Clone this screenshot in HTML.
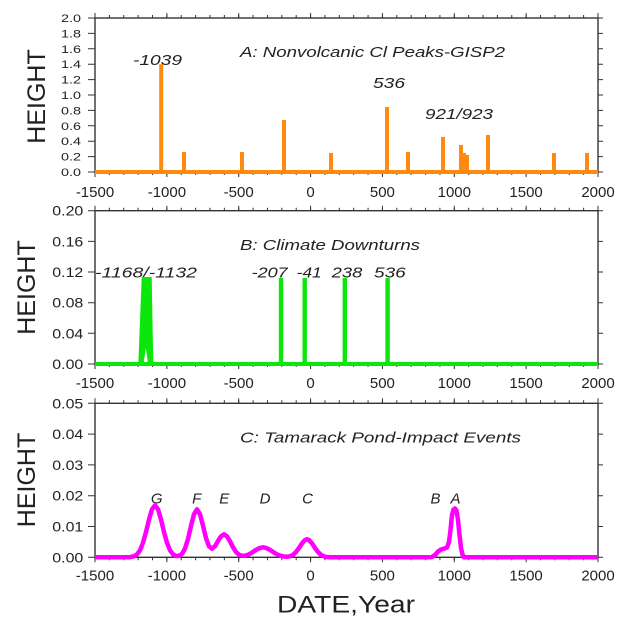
<!DOCTYPE html>
<html><head><meta charset="utf-8"><style>
html,body{margin:0;padding:0;background:#fff;}
svg{display:block;}
text{font-family:"Liberation Sans",Arial,sans-serif;fill:#222;}
.it{font-style:italic;}
</style></head><body>
<svg width="632" height="625" viewBox="0 0 632 625" xmlns="http://www.w3.org/2000/svg">
<rect width="632" height="625" fill="#fff"/>

<!-- ================= PANEL A ================= -->
<g stroke="#333" fill="none">
  <path d="M94.5,16.5H599M94.5,173.5H599" stroke-width="3" stroke-dasharray="1 13.3714"/>
  <path d="M94.5,15.5H599M94.5,174.5H599" stroke-width="5" stroke-dasharray="1 70.857"/>
  <path stroke-width="1" d="M88,172H95M88,156.6H95M88,141.2H95M88,125.8H95M88,110.4H95M88,95H95M88,79.6H95M88,64.2H95M88,48.8H95M88,33.4H95M88,18H95
  M598,172H603M598,156.6H603M598,141.2H603M598,125.8H603M598,110.4H603M598,95H603M598,79.6H603M598,64.2H603M598,48.8H603M598,33.4H603M598,18H603"/>
  <rect x="95" y="18" width="503" height="154" stroke-width="1.4"/>
</g>
<g font-size="11" text-anchor="end">
  <text x="81" y="176" textLength="20" lengthAdjust="spacingAndGlyphs">0.0</text>
  <text x="81" y="160.6" textLength="20" lengthAdjust="spacingAndGlyphs">0.2</text>
  <text x="81" y="145.2" textLength="20" lengthAdjust="spacingAndGlyphs">0.4</text>
  <text x="81" y="129.8" textLength="20" lengthAdjust="spacingAndGlyphs">0.6</text>
  <text x="81" y="114.4" textLength="20" lengthAdjust="spacingAndGlyphs">0.8</text>
  <text x="81" y="99" textLength="20" lengthAdjust="spacingAndGlyphs">1.0</text>
  <text x="81" y="83.6" textLength="20" lengthAdjust="spacingAndGlyphs">1.2</text>
  <text x="81" y="68.2" textLength="20" lengthAdjust="spacingAndGlyphs">1.4</text>
  <text x="81" y="52.8" textLength="20" lengthAdjust="spacingAndGlyphs">1.6</text>
  <text x="81" y="37.4" textLength="20" lengthAdjust="spacingAndGlyphs">1.8</text>
  <text x="81" y="22" textLength="20" lengthAdjust="spacingAndGlyphs">2.0</text>
</g>
<g font-size="15" text-anchor="middle">
  <text x="95" y="197">-1500</text>
  <text x="166.9" y="197">-1000</text>
  <text x="238.7" y="197">-500</text>
  <text x="310.6" y="197">0</text>
  <text x="382.4" y="197">500</text>
  <text x="454.3" y="197">1000</text>
  <text x="526.1" y="197">1500</text>
  <text x="598" y="197">2000</text>
</g>
<text x="45" y="96.5" font-size="25" text-anchor="middle" transform="rotate(-90 45 96.5)">HEIGHT</text>
<text class="it" x="240" y="57" font-size="15" textLength="265" lengthAdjust="spacingAndGlyphs">A: Nonvolcanic Cl Peaks-GISP2</text>
<text class="it" x="133" y="65" font-size="15" textLength="49" lengthAdjust="spacingAndGlyphs">-1039</text>
<text class="it" x="373" y="88" font-size="15" textLength="32" lengthAdjust="spacingAndGlyphs">536</text>
<text class="it" x="425" y="119" font-size="15" textLength="68" lengthAdjust="spacingAndGlyphs">921/923</text>
<g fill="#ff8a10">
  <rect x="95" y="170" width="503" height="4"/>
  <rect x="159.2" y="64.2" width="4" height="108"/>
  <rect x="182" y="152" width="4" height="20"/>
  <rect x="240" y="152" width="4" height="20"/>
  <rect x="282" y="120" width="4" height="52"/>
  <rect x="329" y="153" width="4" height="19"/>
  <rect x="385" y="107" width="4" height="65"/>
  <rect x="406" y="152" width="4" height="20"/>
  <rect x="441" y="137" width="4" height="35"/>
  <rect x="459" y="145" width="4" height="27"/>
  <rect x="463" y="153" width="3" height="19"/>
  <rect x="465.5" y="155" width="3.5" height="17"/>
  <rect x="486" y="135" width="4" height="37"/>
  <rect x="552" y="153" width="4" height="19"/>
  <rect x="585" y="153" width="4" height="19"/>
</g>

<!-- ================= PANEL B ================= -->
<g stroke="#333" fill="none">
  <path d="M94.5,209.2H599M94.5,365.5H599" stroke-width="3" stroke-dasharray="1 13.3714"/>
  <path d="M94.5,208.2H599M94.5,366.5H599" stroke-width="5" stroke-dasharray="1 70.857"/>
  <path stroke-width="1" d="M88,364H95M88,333.3H95M88,302.7H95M88,272H95M88,241.4H95M88,210.7H95
  M598,364H603M598,333.3H603M598,302.7H603M598,272H603M598,241.4H603M598,210.7H603"/>
  <rect x="95" y="210.7" width="503" height="153.3" stroke-width="1.4"/>
</g>
<g font-size="14" text-anchor="end">
  <text x="83.3" y="369" textLength="31" lengthAdjust="spacingAndGlyphs">0.00</text>
  <text x="83.3" y="338.3" textLength="31" lengthAdjust="spacingAndGlyphs">0.04</text>
  <text x="83.3" y="307.7" textLength="31" lengthAdjust="spacingAndGlyphs">0.08</text>
  <text x="83.3" y="277" textLength="31" lengthAdjust="spacingAndGlyphs">0.12</text>
  <text x="83.3" y="246.4" textLength="31" lengthAdjust="spacingAndGlyphs">0.16</text>
  <text x="83.3" y="215.7" textLength="31" lengthAdjust="spacingAndGlyphs">0.20</text>
</g>
<g font-size="15" text-anchor="middle">
  <text x="95" y="388">-1500</text>
  <text x="166.9" y="388">-1000</text>
  <text x="238.7" y="388">-500</text>
  <text x="310.6" y="388">0</text>
  <text x="382.4" y="388">500</text>
  <text x="454.3" y="388">1000</text>
  <text x="526.1" y="388">1500</text>
  <text x="598" y="388">2000</text>
</g>
<text x="35" y="287.5" font-size="25" text-anchor="middle" transform="rotate(-90 35 287.5)">HEIGHT</text>
<text class="it" x="240" y="250" font-size="15" textLength="180" lengthAdjust="spacingAndGlyphs">B: Climate Downturns</text>
<text class="it" x="95" y="277.3" font-size="15" textLength="102" lengthAdjust="spacingAndGlyphs">-1168/-1132</text>
<text class="it" x="251.7" y="277.3" font-size="15" textLength="36" lengthAdjust="spacingAndGlyphs">-207</text>
<text class="it" x="296.7" y="277.3" font-size="15" textLength="25" lengthAdjust="spacingAndGlyphs">-41</text>
<text class="it" x="331.7" y="277.3" font-size="15" textLength="30.6" lengthAdjust="spacingAndGlyphs">238</text>
<text class="it" x="374" y="277.3" font-size="15" textLength="31.7" lengthAdjust="spacingAndGlyphs">536</text>
<g fill="#0be60b">
  <rect x="95" y="362" width="503" height="4"/>
  <polygon points="138.3,365 141.7,277 151.7,277 153.3,365"/>
  <rect x="278.8" y="278" width="4.4" height="87"/>
  <rect x="302.5" y="278" width="4.4" height="87"/>
  <rect x="342.6" y="278" width="4.4" height="87"/>
  <rect x="385.4" y="278" width="4.4" height="87"/>
</g>
<polygon points="143.8,362 145.8,348 147.8,362" fill="#fff"/>

<!-- ================= PANEL C ================= -->
<g stroke="#333" fill="none">
  <path d="M94.5,401.8H599M94.5,558.8H599" stroke-width="3" stroke-dasharray="1 13.3714"/>
  <path d="M94.5,400.8H599M94.5,559.8H599" stroke-width="5" stroke-dasharray="1 70.857"/>
  <path stroke-width="1" d="M88,557.3H95M88,526.5H95M88,495.7H95M88,464.9H95M88,434.1H95M88,403.3H95
  M598,557.3H603M598,526.5H603M598,495.7H603M598,464.9H603M598,434.1H603M598,403.3H603"/>
  <rect x="95" y="403.3" width="503" height="154" stroke-width="1.4"/>
</g>
<g font-size="14" text-anchor="end">
  <text x="83.3" y="562.3" textLength="31" lengthAdjust="spacingAndGlyphs">0.00</text>
  <text x="83.3" y="531.5" textLength="31" lengthAdjust="spacingAndGlyphs">0.01</text>
  <text x="83.3" y="500.7" textLength="31" lengthAdjust="spacingAndGlyphs">0.02</text>
  <text x="83.3" y="469.9" textLength="31" lengthAdjust="spacingAndGlyphs">0.03</text>
  <text x="83.3" y="439.1" textLength="31" lengthAdjust="spacingAndGlyphs">0.04</text>
  <text x="83.3" y="408.3" textLength="31" lengthAdjust="spacingAndGlyphs">0.05</text>
</g>
<g font-size="15" text-anchor="middle">
  <text x="95" y="580.5">-1500</text>
  <text x="166.9" y="580.5">-1000</text>
  <text x="238.7" y="580.5">-500</text>
  <text x="310.6" y="580.5">0</text>
  <text x="382.4" y="580.5">500</text>
  <text x="454.3" y="580.5">1000</text>
  <text x="526.1" y="580.5">1500</text>
  <text x="598" y="580.5">2000</text>
</g>
<text x="35" y="480" font-size="25" text-anchor="middle" transform="rotate(-90 35 480)">HEIGHT</text>
<text class="it" x="240" y="442.7" font-size="15" textLength="281" lengthAdjust="spacingAndGlyphs">C: Tamarack Pond-Impact Events</text>
<g class="it" font-size="15" text-anchor="middle">
  <text class="it" x="156.7" y="503.5">G</text>
  <text class="it" x="196.7" y="503.5">F</text>
  <text class="it" x="224.2" y="503.5">E</text>
  <text class="it" x="265" y="503.5">D</text>
  <text class="it" x="307.5" y="503.5">C</text>
  <text class="it" x="435.5" y="503.5">B</text>
  <text class="it" x="455.5" y="503.5">A</text>
</g>
<polyline fill="none" stroke="#ff00ff" stroke-width="4.5" stroke-linejoin="round" stroke-linecap="butt"
points="95,557.3 125,557.3 130,557.1 134,556.3 137,554.4 140,550.3 143,542.8 146,532 149,519.5 152,509.3 155,505.3 158,509.3 161,519.5 164,532 167,542.8 170,550.3 173,554.3 176,556 179,555.9 182,553.9 185,548.6 188,538.9 191,526 194,514.2 197,509.3 200,514.2 203,525.7 206,538.1 209,546.3 212,548.7 215,546.2 218,541 221,536.4 224,534.3 227,536.4 230,541.3 233,547.2 236,552 239,554.7 242,555.8 245,555.7 248,554.8 251,553.2 254,551.2 257,549.3 260,547.9 263,547.3 266,547.9 269,549.3 272,551.2 275,553.2 278,554.8 281,555.9 284,556.5 287,556.7 290,556.3 293,554.9 296,552 299,548 302,543.4 305,540 307,539.3 309,540 312,543.4 315,548 318,552 321,554.9 324,556.4 327,557 331,557.3 430,557.3 432,557 435,555 438,551.5 441,549.5 444,548.6 447,547.5 449,542 450.5,530 452,515 453.5,509.5 455,508.5 456.5,510.5 458,520 459.5,535 461,548 462.5,554.5 464,557.3 598,557.3"/>

<text x="346" y="612.7" font-size="24.5" text-anchor="middle" textLength="138" lengthAdjust="spacingAndGlyphs">DATE,Year</text>
</svg>
</body></html>
